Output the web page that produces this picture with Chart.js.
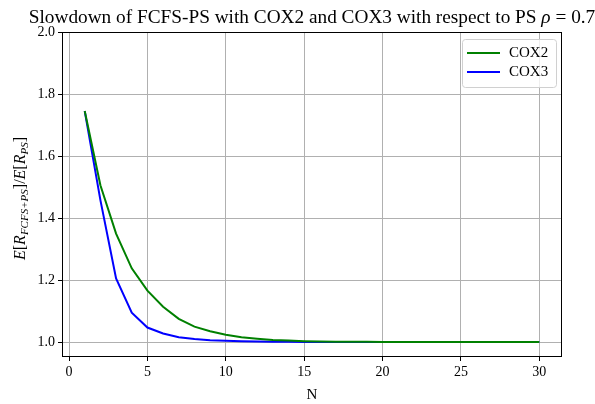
<!DOCTYPE html>
<html>
<head>
<meta charset="utf-8">
<script src="https://cdn.jsdelivr.net/npm/chart.js@4"></script>
<style>
  body { margin: 0; background: #fff; }
  #wrap { width: 595px; height: 404px; }
</style>
</head>
<body>
<div id="wrap"><canvas id="slowdownChart"></canvas></div>
<script>
var nValues = [1, 2, 3, 4, 5, 6, 7, 8, 9, 10, 11, 12, 13, 14, 15, 16, 17, 18, 19, 20, 21, 22, 23, 24, 25, 26, 27, 28, 29, 30];
var cox2 = [1.745, 1.506, 1.350, 1.238, 1.166, 1.114, 1.075, 1.050, 1.035, 1.024, 1.016, 1.011, 1.007, 1.005, 1.003, 1.002, 1.0015, 1.001, 1.001, 1.0005, 1.0004, 1.0003, 1.0002, 1.0002, 1.0001, 1.0001, 1.0001, 1.0, 1.0, 1.0];
var cox3 = [1.745, 1.458, 1.205, 1.095, 1.047, 1.028, 1.016, 1.010, 1.006, 1.004, 1.003, 1.002, 1.001, 1.001, 1.0005, 1.0004, 1.0003, 1.0002, 1.0001, 1.0001, 1.0, 1.0, 1.0, 1.0, 1.0, 1.0, 1.0, 1.0, 1.0, 1.0];
var xTicks = [0, 5, 10, 15, 20, 25, 30];
var yTicks = [1.0, 1.2, 1.4, 1.6, 1.8, 2.0];
var chartTitle = "Slowdown of FCFS-PS with COX2 and COX3 with respect to PS ";
var rhoText = "ρ = 0.7";

var serif = "'Liberation Serif', 'DejaVu Serif', serif";

function toPoints(ys) {
  var pts = [];
  for (let i = 0; i < nValues.length; i++) {
    pts.push({ x: nValues[i], y: ys[i] });
  }
  return pts;
}

// draw a run of text pieces, each with its own font and baseline shift
function pieceWidth(ctx, parts) {
  var total = 0;
  parts.forEach(function(p) {
    ctx.font = p.f;
    p.w = ctx.measureText(p.t).width;
    total += p.w;
  });
  return total;
}
function drawPieces(ctx, parts, x) {
  parts.forEach(function(p) {
    ctx.font = p.f;
    ctx.fillText(p.t, x, p.dy || 0);
    x += p.w;
  });
}

// title, frame, y title with subscripts, legend box
var extras = {
  id: "extras",
  afterDraw: function(chart) {
    var ctx = chart.ctx;
    var a = chart.chartArea;
    ctx.save();
    ctx.strokeStyle = "#000";
    ctx.lineWidth = 1;
    ctx.strokeRect(a.left + 0.5, a.top + 0.5, a.right - a.left - 1, a.bottom - a.top - 1);
    ctx.fillStyle = "#000";
    ctx.textBaseline = "alphabetic";

    // title, centred over the axes
    var tParts = [
      { t: chartTitle, f: "19.3px " + serif },
      { t: "ρ", f: "italic 19.3px " + serif },
      { t: " = 0.7", f: "19.3px " + serif }
    ];
    var tw = pieceWidth(ctx, tParts);
    ctx.save();
    ctx.translate(0, 23);
    drawPieces(ctx, tParts, (a.left + a.right) / 2 - tw / 2);
    ctx.restore();

    // y axis title
    var it = "italic 16px " + serif;
    var up = "16px " + serif;
    var sb = "italic 11px " + serif;
    var parts = [
      { t: "E", f: it }, { t: "[", f: up }, { t: "R", f: it },
      { t: "FCFS+PS", f: sb, dy: 3 },
      { t: "]/", f: up }, { t: "E", f: it }, { t: "[", f: up }, { t: "R", f: it },
      { t: "PS", f: sb, dy: 3 },
      { t: "]", f: up }
    ];
    var total = pieceWidth(ctx, parts);
    ctx.save();
    ctx.translate(25, (a.top + a.bottom) / 2 + 4);
    ctx.rotate(-Math.PI / 2);
    drawPieces(ctx, parts, -total / 2);
    ctx.restore();
    ctx.restore();

    // legend
    ctx.save();
    var lx = a.right - 100, ly = a.top + 7, lw = 94, lh = 48;
    ctx.fillStyle = "rgba(255,255,255,0.8)";
    ctx.strokeStyle = "#d0d0d0";
    ctx.lineWidth = 1;
    ctx.beginPath();
    ctx.roundRect(lx + 0.5, ly + 0.5, lw, lh, 3);
    ctx.fill();
    ctx.stroke();
    chart.data.datasets.forEach(function(ds, i) {
      var yy = ly + 14 + i * 19;
      ctx.strokeStyle = ds.borderColor;
      ctx.lineWidth = 2;
      ctx.beginPath();
      ctx.moveTo(lx + 5, yy);
      ctx.lineTo(lx + 38, yy);
      ctx.stroke();
      ctx.fillStyle = "#000";
      ctx.font = "15px " + serif;
      ctx.textBaseline = "middle";
      ctx.fillText(ds.label, lx + 47, yy);
    });
    ctx.restore();
  }
};

const dataSlowdown = {
  datasets: [
    {
      label: "COX2",
      data: toPoints(cox2),
      borderColor: "#008000",
      backgroundColor: "#008000",
      borderWidth: 2,
      pointRadius: 0,
      tension: 0,
    },
    {
      label: "COX3",
      data: toPoints(cox3),
      borderColor: "#0000ff",
      backgroundColor: "#0000ff",
      borderWidth: 2,
      pointRadius: 0,
      tension: 0,
    },
  ],
};

const configSlowdown = {
  type: "line",
  data: dataSlowdown,
  options: {
    responsive: true,
    maintainAspectRatio: false,
    animation: false,
    layout: { padding: { left: 0, right: 33, top: 32, bottom: 0 } },
    scales: {
      x: {
        type: "linear",
        min: -0.45,
        max: 31.45,
        afterBuildTicks: function(axis) {
          axis.ticks = xTicks.map(function(v) { return { value: v }; });
        },
        afterFit: function(axis) { axis.height = 47; },
        ticks: {
          color: "#000",
          font: { family: serif, size: 14 },
          padding: 3,
          maxRotation: 0,
          callback: function(v) { return v; },
        },
        grid: { color: "#b0b0b0", tickColor: "#000", tickLength: 4, lineWidth: 1 },
        border: { display: false },
        title: { display: true, text: "N", color: "#000", font: { family: serif, size: 15 }, padding: { top: 0, bottom: 0 } },
      },
      y: {
        min: 0.952,
        max: 2.0,
        afterBuildTicks: function(axis) {
          axis.ticks = yTicks.map(function(v) { return { value: v }; });
        },
        afterFit: function(axis) { axis.width = 62; },
        ticks: {
          color: "#000",
          font: { family: serif, size: 14 },
          padding: 3,
          callback: function(v) { return v.toFixed(1); },
        },
        grid: { color: "#b0b0b0", tickColor: "#000", tickLength: 4, lineWidth: 1 },
        border: { display: false },
      },
    },
    plugins: {
      legend: { display: false },
      tooltip: { enabled: false },
      title: { display: false },
    },
  },
  plugins: [extras],
};

var slowdownChart = new Chart(
  document.getElementById("slowdownChart"),
  configSlowdown
);
</script>
</body>
</html>
